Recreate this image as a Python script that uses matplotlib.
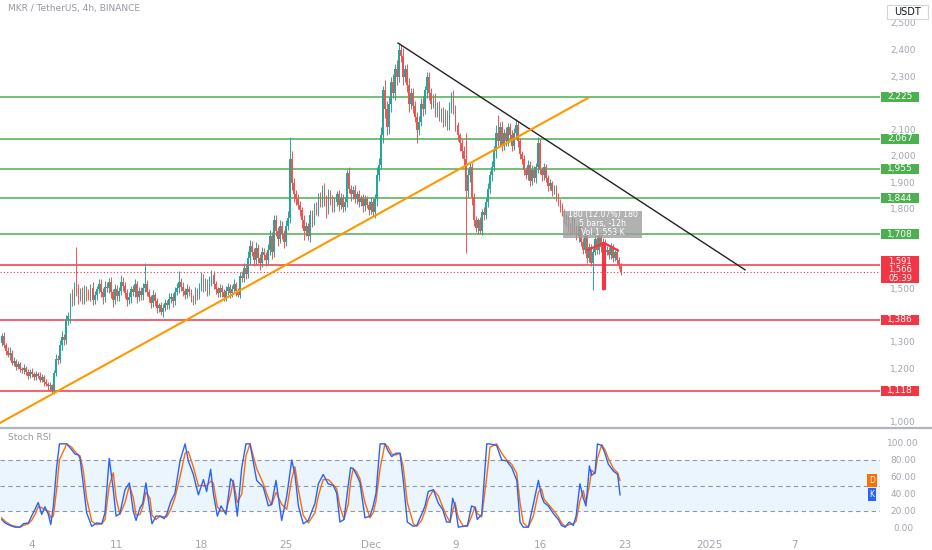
import numpy as np
import matplotlib
matplotlib.use('Agg')
import matplotlib.pyplot as plt
import matplotlib.transforms as mtransforms
from matplotlib.patches import Rectangle
from matplotlib.lines import Line2D

# MKR / USDT, 4h candles, first candle Nov 1 12:00 (index 0)
first_open = 1300
closes = [
    1325, 1290, 1270, 1255, 1262, 1225, 1230, 1210, 1218, 1200, 1195, 1205,
    1188, 1175, 1190, 1180, 1170, 1182, 1176, 1160, 1170, 1150, 1145, 1135,
    1140, 1118, 1185, 1240, 1235, 1290, 1320, 1310, 1385, 1400, 1470, 1460,
    1510, 1495, 1470, 1490, 1465, 1500, 1480, 1475, 1505, 1460, 1480, 1500,
    1520, 1490, 1470, 1510, 1505, 1530, 1490, 1460, 1500, 1475, 1495, 1530,
    1515, 1485, 1460, 1470, 1500, 1490, 1520, 1470, 1495, 1480, 1505, 1520,
    1490, 1470, 1450, 1480, 1455, 1430, 1440, 1415, 1430, 1450, 1440, 1465,
    1470, 1455, 1490, 1505, 1530, 1510, 1495, 1480, 1500, 1490, 1470, 1460,
    1490, 1480, 1505, 1540, 1510, 1525, 1495, 1530, 1555, 1520, 1500, 1485,
    1505, 1490, 1470, 1495, 1510, 1485, 1500, 1520, 1495, 1480, 1550, 1545,
    1580, 1560, 1620, 1665, 1640, 1610, 1655, 1620, 1600, 1640, 1630, 1610,
    1650, 1700, 1640, 1760, 1720, 1690, 1740, 1710, 1680, 1740, 1770, 1990,
    1900, 1860, 1840, 1820, 1800, 1760, 1720, 1740, 1700, 1780, 1760, 1810,
    1800, 1850, 1830, 1880, 1840, 1800, 1860, 1840, 1810, 1830, 1860, 1820,
    1845, 1810, 1830, 1940, 1880, 1860, 1875, 1840, 1860, 1830, 1845, 1815,
    1840, 1820, 1800, 1830, 1790, 1840, 1930, 1970, 2080, 2250, 2180, 2110,
    2200, 2280, 2240, 2330, 2300, 2400, 2380, 2300, 2330, 2270, 2200, 2240,
    2190, 2150, 2100, 2130, 2200, 2180, 2250, 2300, 2240, 2200, 2220, 2170,
    2190, 2150, 2170, 2130, 2160, 2120, 2180, 2230, 2180, 2120, 2080, 2050,
    2020, 1990, 1870, 1930, 1960, 1850, 1760, 1730, 1760, 1720, 1790, 1780,
    1830, 1880, 1930, 1960, 2020, 2090, 2060, 2110, 2040, 2090, 2060, 2110,
    2080, 2040, 2090, 2120, 2060, 2010, 1990, 1950, 1930, 1970, 1910, 1950,
    1920, 1960, 2050, 1950, 1930, 1960, 1920, 1890, 1900, 1870, 1880, 1850,
    1830, 1810, 1790, 1760, 1770, 1740, 1720, 1760, 1730, 1700, 1740, 1680,
    1650, 1700, 1620, 1660, 1600, 1640, 1690, 1650, 1700, 1660, 1680, 1640,
    1650, 1630, 1660, 1620, 1640, 1610, 1590, 1566,
]
# wick length above / below the body
wick_up = [
    10, 15, 8, 12, 20, 10, 14, 8, 12, 10, 9, 15,
    8, 12, 10, 14, 9, 11, 8, 13, 10, 9, 12, 8,
    10, 6, 12, 18, 15, 20, 25, 12, 20, 15, 18, 30,
    20, 150, 25, 15, 20, 18, 12, 20, 15, 22, 16, 12,
    20, 18, 14, 22, 20, 15, 18, 12, 20, 16, 14, 25,
    18, 12, 15, 20, 14, 18, 20, 12, 16, 14, 18, 80,
    14, 12, 10, 18, 12, 14, 10, 12, 15, 14, 12, 20,
    16, 18, 20, 18, 40, 15, 18, 12, 20, 15, 12, 10,
    18, 14, 20, 25, 18, 20, 15, 20, 18, 14, 12, 10,
    15, 12, 10, 18, 14, 12, 16, 20, 10, 12, 15, 18,
    20, 15, 25, 20, 18, 15, 22, 18, 14, 20, 15, 12,
    20, 25, 18, 20, 22, 15, 20, 18, 15, 20, 25, 84,
    30, 20, 15, 18, 14, 12, 20, 15, 12, 20, 18, 15,
    20, 15, 18, 14, 20, 15, 18, 14, 16, 20, 12, 15,
    18, 14, 20, 10, 20, 15, 16, 18, 12, 14, 12, 15,
    15, 12, 14, 18, 15, 20, 30, 25, 30, 15, 40, 30,
    25, 20, 30, 20, 35, 28, 20, 30, 15, 20, 25, 18,
    20, 18, 20, 25, 20, 30, 15, 19, 20, 18, 15, 20,
    15, 20, 14, 18, 20, 15, 25, 14, 20, 15, 12, 10,
    15, 20, 100, 25, 20, 15, 12, 15, 10, 12, 14, 20,
    15, 20, 18, 25, 20, 30, 67, 20, 25, 15, 20, 18,
    15, 20, 18, 22, 15, 12, 10, 15, 12, 18, 15, 20,
    15, 18, 24, 15, 12, 18, 14, 12, 15, 10, 14, 12,
    12, 10, 15, 12, 14, 10, 12, 15, 10, 14, 12, 10,
    12, 15, 10, 14, 12, 15, 12, 14, 10, 12, 15, 10,
    12, 10, 14, 12, 10, 15, 12, 8,
]
wick_dn = [
    12, 10, 15, 8, 20, 10, 12, 15, 10, 12, 8, 14,
    10, 12, 8, 10, 12, 9, 11, 10, 8, 12, 10, 14,
    12, 8, 10, 12, 15, 10, 18, 20, 15, 20, 25, 22,
    18, 20, 25, 15, 20, 18, 22, 15, 20, 18, 15, 20,
    15, 20, 25, 18, 15, 20, 22, 25, 15, 20, 18, 15,
    20, 18, 22, 15, 20, 15, 18, 20, 15, 18, 20, 15,
    15, 18, 20, 15, 18, 20, 15, 10, 18, 12, 15, 14,
    15, 20, 14, 12, 18, 15, 20, 14, 12, 15, 18, 20,
    14, 18, 15, 12, 20, 15, 18, 14, 15, 20, 18, 15,
    14, 18, 15, 12, 15, 18, 14, 15, 20, 10, 12, 18,
    15, 20, 18, 25, 15, 20, 18, 22, 25, 15, 18, 20,
    15, 20, 25, 18, 20, 25, 15, 20, 25, 18, 15, 20,
    25, 30, 20, 18, 25, 30, 35, 20, 15, 20, 25, 18,
    20, 25, 18, 20, 25, 30, 15, 20, 18, 20, 15, 25,
    18, 20, 15, 20, 18, 25, 20, 15, 18, 20, 15, 22,
    18, 15, 20, 15, 17, 20, 25, 20, 15, 30, 35, 30,
    25, 30, 20, 25, 30, 20, 25, 30, 20, 25, 30, 20,
    25, 20, 48, 20, 15, 25, 20, 30, 25, 20, 15, 20,
    20, 15, 18, 20, 15, 20, 18, 15, 20, 25, 20, 30,
    25, 20, 232, 20, 25, 30, 20, 15, 20, 11, 15, 20,
    15, 20, 18, 20, 15, 25, 20, 18, 20, 15, 18, 20,
    20, 18, 15, 20, 25, 20, 18, 20, 15, 18, 20, 15,
    15, 18, 20, 15, 20, 18, 15, 20, 15, 18, 12, 15,
    15, 18, 12, 15, 20, 18, 15, 12, 18, 15, 20, 18,
    15, 12, 20, 15, 12, 102, 12, 18, 15, 20, 162, 15,
    12, 15, 14, 18, 12, 15, 12, 10,
]

# horizontal levels drawn on the chart
green_levels = [2225, 2067, 1955, 1844, 1708]
red_levels = [1591, 1386, 1118]
last_price = 1566
countdown = '05:39'

# trend lines, (candle index, price)
down_trend = [(196.5, 2428), (368.6, 1574)]
up_trend = [(-1, 997), (290.7, 2221)]

# Stoch RSI samples (candle index, %K, %D)
stoch_t = [0, 1.6, 4.1, 6.6, 9, 10.7, 13.2, 14.8, 16.5, 18.1, 19.8, 21.4, 23.1, 24.3, 25.6,
           27.2, 28.6, 32.2, 34.7, 36.3, 38, 38.8, 40.4, 42.1, 44.6, 47.1, 49.6, 51.2, 53.3,
           55.3, 56.7, 58.6, 61.1, 63.3, 65.2, 66.6, 68.6, 69.9, 71.5, 73.5, 74.5, 76.5, 78.5,
           80.5, 81.8, 83.8, 85.9, 88.4, 90.9, 92.5, 95, 97.5, 100, 101.6, 103.6, 104.9, 106.9,
           108.7, 111.2, 113.5, 114.8, 116.8, 119, 121.1, 123.1, 126.4, 129.7, 132.2, 133.8,
           136, 138.8, 141.3, 143.8, 145.4, 147.1, 149.5, 152, 155.3, 157, 159.4, 161.9, 164.4,
           166.1, 167.7, 169.7, 171.8, 173, 174.3, 176, 177.6, 180.1, 182.6, 184.2, 185.6,
           187.6, 190, 191.7, 193.4, 195.5, 197.5, 199.1, 201.1, 204.1, 205.8, 208.2, 209.9,
           211.5, 214, 216.5, 218.6, 220.6, 222.3, 223.6, 224.8, 226.4, 228.9, 230.9, 233,
           234.7, 235.8, 238, 240.5, 242.1, 245.4, 247.9, 250.4, 252.9, 255.4, 257, 258.6,
           261.1, 263.6, 266.1, 267.7, 268.9, 271, 273.5, 276, 277.6, 279.3, 281.4, 283.4,
           284.8, 286.7, 288.4, 289.7, 291.4, 292.5, 294.2, 295.4, 297.5, 299.1, 300.8, 303.3,
           305.4, 306.6]
stoch_k = [10, 6, 3, 1, 1, 5, 6, 14, 22, 30, 16, 25, 16, 4, 26,
           71, 99, 99, 92, 87, 86, 82, 52, 18, 2, 6, 5, 18, 82,
           45, 14, 17, 45, 53, 20, 9, 24, 29, 53, 20, 5, 14, 14,
           11, 16, 31, 41, 79, 99, 79, 63, 39, 57, 43, 69, 41, 14,
           26, 16, 58, 54, 14, 71, 99, 99, 56, 48, 26, 28,
           56, 9, 37, 80, 63, 26, 5, 9, 29, 52, 63, 52, 50,
           41, 7, 10, 50, 71, 70, 62, 54, 12, 14, 26, 41,
           99, 99, 90, 84, 88, 88, 56, 7, 2, 3, 16, 26,
           43, 45, 29, 22, 7, 7, 35, 26, 1, 2, 3, 26,
           24, 10, 16, 99, 99, 97, 80, 79, 71, 56, 7, 1,
           1, 28, 56, 37, 30, 26, 17, 10, 3, 1, 7, 3,
           14, 52, 35, 26, 73, 62, 65, 99, 97, 88, 75, 67,
           63, 39]
stoch_d = [12, 8, 4, 2, 1, 3, 5, 9, 16, 25, 24, 21, 20, 12, 14,
           45, 80, 99, 95, 90, 86, 85, 68, 35, 8, 4, 5, 10, 50,
           65, 35, 16, 30, 50, 36, 15, 16, 25, 42, 35, 15, 10, 14,
           13, 13, 22, 36, 60, 88, 90, 72, 50, 50, 50, 55, 53, 25,
           20, 20, 40, 56, 30, 40, 85, 99, 70, 52, 35, 27,
           42, 28, 22, 58, 72, 45, 15, 6, 18, 38, 57, 57, 51,
           46, 25, 10, 28, 55, 70, 66, 58, 30, 12, 18, 32,
           70, 99, 95, 87, 86, 88, 72, 30, 5, 2, 9, 20,
           34, 45, 38, 25, 14, 7, 20, 30, 12, 2, 2, 14,
           25, 17, 13, 60, 95, 99, 88, 80, 75, 64, 30, 6,
           1, 14, 42, 46, 34, 28, 21, 13, 6, 2, 4, 5,
           8, 32, 44, 30, 50, 68, 64, 82, 98, 92, 82, 70,
           65, 56]

# x axis (Mondays, 42 candles per week)
date_ticks = [15, 57, 99, 141, 183, 225, 267, 309, 351, 393]
date_labels = ['4', '11', '18', '25', 'Dec', '9', '16', '23', '2025', '7']
price_ticks = list(range(1000, 2600, 100))
stoch_ticks = [0, 20, 40, 60, 80, 100]

W, H = 932, 550
GREEN = '#4caf50'
RED = '#f23645'
AXIS_TXT = '#a3a6af'

fig = plt.figure(figsize=(W / 100, H / 100), dpi=100)
fig.patch.set_facecolor('white')

ax = fig.add_axes([0, 1 - 426 / H, 880 / W, 426 / H])
ax2 = fig.add_axes([0, 14 / H, 880 / W, 116 / H - 14 / H])
for a in (ax, ax2):
    a.set_facecolor('white')
    for s in a.spines.values():
        s.set_visible(False)
    a.set_xlim(-0.87, 435.5)

ax.set_ylim(986, 2590)
ax.set_xticks([])
ax.set_yticks([])

# candles
closes = np.array(closes, dtype=float)
opens = np.concatenate([[first_open], closes[:-1]])
highs = np.maximum(opens, closes) + np.array(wick_up)
lows = np.minimum(opens, closes) - np.array(wick_dn)
idx = np.arange(len(closes))
colors = np.where(closes >= opens, '#26a69a', '#ef5350')
ax.vlines(idx, lows, highs, colors=colors, lw=0.7, zorder=3)
ax.bar(idx, np.maximum(np.abs(closes - opens), 4), bottom=np.minimum(opens, closes),
       width=0.8, color=colors, lw=0, zorder=3)

# levels
for lv in green_levels:
    ax.axhline(lv, color=GREEN, lw=1.1, zorder=2)
for lv in red_levels:
    ax.axhline(lv, color=RED, lw=1.1, zorder=2)
ax.axhline(last_price, color=RED, lw=0.8, ls=(0, (1, 2)), zorder=2)

# trend lines
ax.plot([p[0] for p in down_trend], [p[1] for p in down_trend], color='#222222', lw=1, zorder=4)
ax.plot([p[0] for p in up_trend], [p[1] for p in up_trend], color='#ff9800', lw=1.5, zorder=4)

# measure box
ax.add_patch(Rectangle((278.3, 1694), 39.2, 102, fc='#9e9e9e', ec='none', alpha=0.8, zorder=5))
for ty, s in [(1781, '180 (12.07%) 180'), (1747, '5 bars, -12h'), (1713, 'Vol 1.553 K')]:
    ax.text(297.9, ty, s, ha='center', va='center', fontsize=5.6, color='white', zorder=6)

# red arrow
ax.plot([298.7, 298.7], [1498, 1675], color=RED, lw=3, solid_capstyle='butt', zorder=6)
ax.plot([290.7, 298.7, 305.6], [1650, 1675, 1647], color=RED, lw=1.6, zorder=6)

# price scale (ticks hidden behind the level boxes are skipped)
tr = mtransforms.blended_transform_factory(fig.transFigure, ax.transData)
for p in price_ticks:
    if min(abs(p - lv) for lv in green_levels + red_levels + [last_price]) < 32:
        continue
    ax.text(903 / W, p, f'{p:,}', transform=tr, ha='center', va='center',
            fontsize=6.5, color=AXIS_TXT, clip_on=False)
box_h = 10 * 3.765
for lv in green_levels + red_levels[1:]:
    c = GREEN if lv in green_levels else RED
    ax.add_patch(Rectangle((881 / W, lv - box_h / 2), 38 / W, box_h, transform=tr,
                           fc=c, ec='none', clip_on=False, zorder=10))
    ax.text(900 / W, lv, f'{lv:,}', transform=tr, ha='center', va='center',
            fontsize=6.5, color='white', clip_on=False, zorder=11)
# last price box
ax.add_patch(Rectangle((881 / W, 1525), 38 / W, 101, transform=tr,
                       fc=RED, ec='none', clip_on=False, zorder=10))
for ty, s in [(1606, f'{red_levels[0]:,}'), (1574, f'{last_price:,}'), (1542, countdown)]:
    ax.text(900 / W, ty, s, transform=tr, ha='center', va='center',
            fontsize=6, color='white', clip_on=False, zorder=11)

# stoch rsi pane
ax2.set_ylim(-9.4, 110.6)
ax2.axhspan(20, 80, color='#2196f3', alpha=0.09, lw=0)
for lv in (80, 50, 20):
    ax2.axhline(lv, color='#9598a1', lw=0.8, ls=(0, (4, 3)))
ax2.plot(stoch_t, stoch_d, color='#ff6d00', lw=1)
ax2.plot(stoch_t, stoch_k, color='#2962ff', lw=1)
ax2.set_yticks([])
ax2.set_xticks(date_ticks)
ax2.set_xticklabels(date_labels)
ax2.tick_params(axis='x', length=0, pad=3, labelsize=7.5, labelcolor=AXIS_TXT)
fig.text(8 / W, 1 - 437 / H, 'Stoch RSI', fontsize=6.5, color='#9598a1', va='center')
tr2 = mtransforms.blended_transform_factory(fig.transFigure, ax2.transData)
for v in stoch_ticks:
    ax2.text(903 / W, v, f'{v:.2f}', transform=tr2, ha='center', va='center',
             fontsize=6.5, color=AXIS_TXT, clip_on=False)
ax2.text(872 / W, stoch_d[-1], 'D', transform=tr2, ha='center', va='center', fontsize=5.5,
         color='white', bbox=dict(boxstyle='square,pad=0.25', fc='#ff6d00', ec='none'))
ax2.text(872 / W, stoch_k[-1], 'K', transform=tr2, ha='center', va='center', fontsize=5.5,
         color='white', bbox=dict(boxstyle='square,pad=0.25', fc='#2962ff', ec='none'))

# pane separator
fig.add_artist(Line2D([0, 1], [1 - 428 / H, 1 - 428 / H], color='#b2b5be', lw=1.6))

# header and currency box
fig.text(8 / W, 1 - 8 / H, 'MKR / TetherUS, 4h, BINANCE', fontsize=6.5, color='#9598a1', va='center')
fig.add_artist(Rectangle((887 / W, 1 - 19 / H), 41 / W, 14 / H, transform=fig.transFigure,
                         fc='white', ec='#d1d4dc', lw=0.8))
fig.text(907.5 / W, 1 - 12 / H, 'USDT', fontsize=7, color='#131722', ha='center', va='center')

plt.savefig('out.png', dpi=100)
